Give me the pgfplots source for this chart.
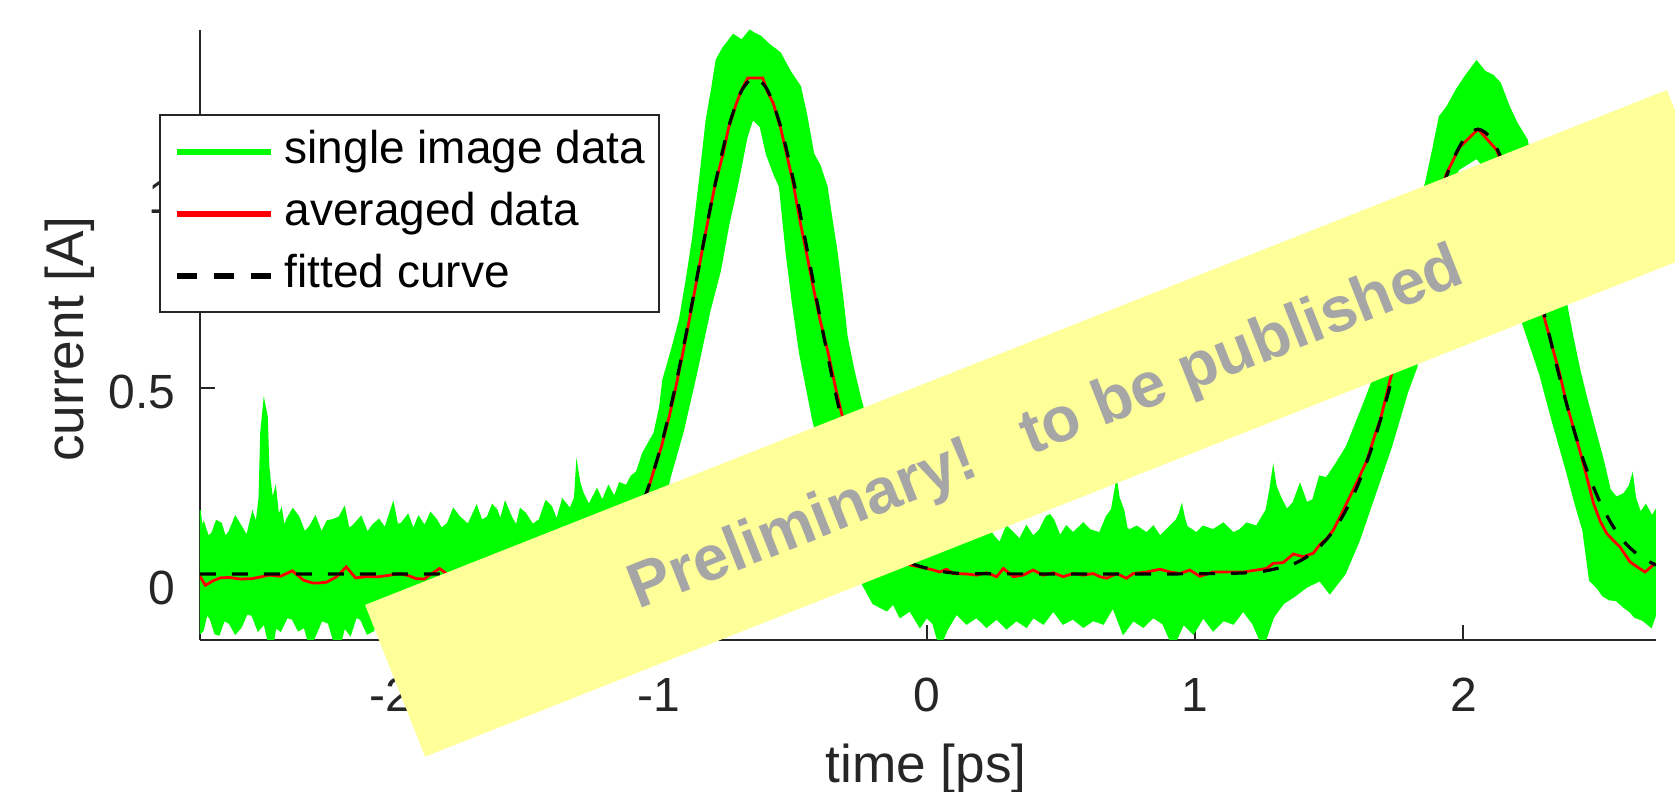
\documentclass[border=0pt]{standalone}
\usepackage{fontspec}
\setmainfont{Liberation Sans}
\usepackage{pgfplots}
\pgfplotsset{compat=1.18}
\definecolor{axgray}{rgb}{0.15,0.15,0.15}
\definecolor{mgreen}{rgb}{0,1,0}
\definecolor{wmyellow}{RGB}{255,255,153}
\definecolor{wmgray}{RGB}{166,166,166}
\begin{document}
\begin{tikzpicture}
\begin{axis}[
  at={(50pt,38pt)}, anchor=south west,
  scale only axis, width=364pt, height=152.5pt,
  xmin=-2.71, xmax=2.718, ymin=-0.144, ymax=1.417,
  axis x line*=bottom, axis y line*=left,
  axis line style={axgray, line width=0.5pt},
  tick align=inside, major tick length=3.7pt,
  tick style={axgray, line width=0.5pt},
  xtick={-2,-1,0,1,2}, xticklabels={\mbox{-2},\mbox{-1},\mbox{0},\mbox{1},\mbox{2}},
  ytick={0,0.5,1}, yticklabels={\mbox{0},\mbox{0.5},\mbox{1}},
  ticklabel style={font=\fontsize{12}{14}\selectfont, text=axgray},
  xticklabel style={anchor=base, yshift=-17.9pt},
  yticklabel style={anchor=east, inner sep=0pt, xshift=-5.9pt, yshift=-1pt},
  xlabel={time [ps]}, ylabel={current [A]},
  label style={font=\fontsize{13.3}{16}\selectfont, text=axgray},
  xlabel style={at={(axis description cs:0.4986,-0.2344)}, anchor=base},
  ylabel style={at={(axis description cs:-0.0797,0.4934)}, anchor=base},
  legend style={at={(-0.0282,0.8618)}, anchor=north west, draw=axgray, line width=0.5pt,
    fill=white, font=\fontsize{11.5}{13}\selectfont, text=black,
    inner xsep=3.5pt, inner ysep=3.6pt, row sep=4.5pt, column sep=2.7pt,
    nodes={inner sep=0pt, text height=8.5pt, text depth=2.5pt}},
  legend cell align=left,
  legend image code/.code={\draw[#1] (0pt,0pt) -- (23.5pt,0pt);},
]
% single image data: envelope of the traces
\addplot[draw=mgreen, fill=mgreen, line width=0.5pt, forget plot] coordinates {
(-2.711,0.188) (-2.703,0.14) (-2.696,0.154) (-2.68,0.12) (-2.664,0.129) (-2.648,0.16) (-2.632,0.154) (-2.616,0.118) (-2.600,0.133) (-2.578,0.17) (-2.557,0.146) (-2.535,0.12) (-2.514,0.18) (-2.50,0.15) (-2.488,0.22) (-2.482,0.385) (-2.471,0.462) (-2.461,0.427) (-2.455,0.30) (-2.450,0.265) (-2.44,0.21) (-2.429,0.240) (-2.418,0.17) (-2.407,0.188) (-2.396,0.14) (-2.386,0.163) (-2.364,0.19) (-2.343,0.171) (-2.32,0.13) (-2.300,0.146) (-2.28,0.17) (-2.257,0.129) (-2.235,0.16) (-2.214,0.163) (-2.19,0.17) (-2.172,0.193) (-2.156,0.14) (-2.140,0.147) (-2.11,0.17) (-2.086,0.129) (-2.065,0.15) (-2.043,0.163) (-2.02,0.14) (-1.990,0.203) (-1.975,0.15) (-1.958,0.154) (-1.935,0.175) (-1.915,0.137) (-1.895,0.17) (-1.872,0.146) (-1.85,0.18) (-1.829,0.163) (-1.81,0.14) (-1.786,0.154) (-1.765,0.19) (-1.744,0.171) (-1.71,0.15) (-1.679,0.197) (-1.66,0.16) (-1.637,0.171) (-1.62,0.20) (-1.604,0.188) (-1.59,0.16) (-1.572,0.206) (-1.55,0.17) (-1.530,0.146) (-1.515,0.19) (-1.498,0.180) (-1.47,0.15) (-1.444,0.163) (-1.42,0.21) (-1.401,0.197) (-1.38,0.16) (-1.358,0.214) (-1.33,0.19) (-1.312,0.22) (-1.305,0.299) (-1.296,0.26) (-1.283,0.231) (-1.26,0.20) (-1.230,0.240) (-1.21,0.21) (-1.187,0.248) (-1.165,0.22) (-1.145,0.257) (-1.12,0.25) (-1.102,0.274) (-1.081,0.286) (-1.058,0.334) (-1.016,0.385) (-0.995,0.45) (-0.983,0.521) (-0.95,0.60) (-0.921,0.675) (-0.895,0.78) (-0.871,0.888) (-0.845,1.04) (-0.821,1.187) (-0.80,1.27) (-0.784,1.34) (-0.76,1.37) (-0.722,1.404) (-0.69,1.39) (-0.66,1.415) (-0.647,1.409) (-0.62,1.40) (-0.59,1.38) (-0.548,1.358) (-0.51,1.31) (-0.473,1.272) (-0.45,1.20) (-0.424,1.10) (-0.40,1.07) (-0.374,1.016) (-0.355,0.93) (-0.336,0.846) (-0.315,0.73) (-0.299,0.632) (-0.275,0.55) (-0.25,0.478) (-0.22,0.40) (-0.19,0.33) (-0.16,0.28) (-0.13,0.24) (-0.10,0.21) (-0.06,0.19) (-0.02,0.17) (0.02,0.16) (0.06,0.17) (0.10,0.15) (0.14,0.16) (0.18,0.14) (0.22,0.15) (0.25,0.12) (0.272,0.103) (0.297,0.146) (0.322,0.129) (0.346,0.112) (0.371,0.146) (0.396,0.120) (0.421,0.137) (0.446,0.171) (0.458,0.175) (0.471,0.163) (0.496,0.120) (0.520,0.146) (0.545,0.129) (0.583,0.154) (0.607,0.137) (0.645,0.129) (0.670,0.171) (0.69,0.19) (0.700,0.23) (0.707,0.257) (0.715,0.22) (0.732,0.188) (0.745,0.14) (0.757,0.137) (0.782,0.146) (0.819,0.129) (0.844,0.146) (0.869,0.120) (0.894,0.137) (0.931,0.163) (0.943,0.18) (0.950,0.197) (0.958,0.17) (0.968,0.146) (1.005,0.129) (1.030,0.146) (1.067,0.137) (1.105,0.154) (1.142,0.129) (1.167,0.137) (1.192,0.154) (1.229,0.146) (1.266,0.188) (1.28,0.24) (1.291,0.291) (1.30,0.25) (1.316,0.223) (1.341,0.188) (1.366,0.206) (1.391,0.252) (1.415,0.206) (1.44,0.214) (1.465,0.274) (1.49,0.27) (1.52,0.30) (1.565,0.35) (1.60,0.41) (1.62,0.444) (1.663,0.52) (1.70,0.60) (1.75,0.72) (1.80,0.86) (1.84,0.97) (1.863,1.033) (1.89,1.12) (1.912,1.195) (1.94,1.22) (1.975,1.264) (2.01,1.30) (2.049,1.336) (2.08,1.31) (2.11,1.30) (2.136,1.281) (2.17,1.22) (2.198,1.179) (2.236,1.136) (2.27,1.02) (2.31,0.90) (2.35,0.80) (2.385,0.709) (2.41,0.62) (2.435,0.539) (2.46,0.47) (2.483,0.411) (2.52,0.316) (2.546,0.24) (2.57,0.22) (2.60,0.23) (2.62,0.25) (2.63,0.274) (2.64,0.22) (2.66,0.18) (2.68,0.20) (2.704,0.171) (2.72,0.19)
(2.72,-0.07) (2.70,-0.11) (2.67,-0.093) (2.64,-0.085) (2.62,-0.07) (2.60,-0.06) (2.57,-0.042) (2.545,-0.04) (2.52,-0.03) (2.50,-0.01) (2.472,0.009) (2.447,0.137) (2.42,0.20) (2.385,0.29) (2.335,0.411) (2.285,0.539) (2.222,0.667) (2.17,0.85) (2.12,1.03) (2.05,1.09) (1.98,1.06) (1.92,0.95) (1.86,0.75) (1.825,0.555) (1.79,0.49) (1.73,0.35) (1.67,0.23) (1.61,0.11) (1.558,0.026) (1.502,-0.024) (1.465,0.009) (1.415,-0.008) (1.366,-0.033) (1.328,-0.05) (1.291,-0.085) (1.253,-0.16) (1.216,-0.102) (1.179,-0.068) (1.142,-0.102) (1.105,-0.093) (1.067,-0.119) (1.030,-0.085) (0.993,-0.127) (0.956,-0.102) (0.918,-0.16) (0.881,-0.102) (0.844,-0.085) (0.806,-0.110) (0.769,-0.093) (0.732,-0.127) (0.694,-0.059) (0.657,-0.102) (0.620,-0.093) (0.583,-0.110) (0.545,-0.089) (0.508,-0.102) (0.471,-0.068) (0.434,-0.102) (0.396,-0.085) (0.371,-0.110) (0.334,-0.093) (0.297,-0.114) (0.260,-0.089) (0.222,-0.110) (0.185,-0.085) (0.148,-0.102) (0.110,-0.076) (0.073,-0.119) (0.048,-0.16) (0.024,-0.102) (-0.001,-0.085) (-0.026,-0.110) (-0.063,-0.068) (-0.100,-0.085) (-0.125,-0.05) (-0.150,-0.068) (-0.200,-0.05) (-0.24,0.0) (-0.28,0.07) (-0.33,0.17) (-0.38,0.30) (-0.424,0.419) (-0.473,0.59) (-0.50,0.72) (-0.523,0.846) (-0.548,1.016) (-0.57,1.05) (-0.597,1.10) (-0.62,1.17) (-0.65,1.19) (-0.672,1.144) (-0.709,1.016) (-0.74,0.92) (-0.772,0.80) (-0.81,0.70) (-0.86,0.54) (-0.91,0.39) (-0.96,0.27) (-1.02,0.08) (-1.08,-0.02) (-1.15,-0.08) (-1.25,-0.12) (-1.4,-0.13) (-1.6,-0.12) (-1.8,-0.13) (-2.0,-0.12) (-2.043,-0.076) (-2.065,-0.12) (-2.086,-0.127) (-2.11,-0.09) (-2.129,-0.085) (-2.15,-0.13) (-2.172,-0.110) (-2.19,-0.16) (-2.204,-0.16) (-2.23,-0.10) (-2.257,-0.093) (-2.28,-0.13) (-2.300,-0.16) (-2.32,-0.11) (-2.343,-0.119) (-2.364,-0.09) (-2.386,-0.085) (-2.41,-0.12) (-2.429,-0.110) (-2.44,-0.16) (-2.450,-0.16) (-2.47,-0.10) (-2.493,-0.119) (-2.515,-0.08) (-2.536,-0.076) (-2.557,-0.11) (-2.578,-0.127) (-2.60,-0.10) (-2.621,-0.093) (-2.64,-0.13) (-2.653,-0.127) (-2.67,-0.09) (-2.685,-0.076) (-2.70,-0.12) (-2.711,-0.127)
};
% averaged data
\addplot[red, line width=0.7pt, forget plot] coordinates {
(-2.713,0.022) (-2.69,-0.004) (-2.66,0.008) (-2.634,0.015) (-2.60,0.016) (-2.56,0.012) (-2.516,0.013) (-2.48,0.018) (-2.452,0.022) (-2.41,0.019) (-2.366,0.033) (-2.324,0.009) (-2.291,0.002) (-2.265,0.002) (-2.238,0.004) (-2.20,0.018) (-2.165,0.043) (-2.13,0.015) (-2.09,0.018) (-2.045,0.018) (-2.00,0.022) (-1.966,0.026) (-1.93,0.02) (-1.904,0.013) (-1.874,0.012) (-1.854,0.022) (-1.817,0.039) (-1.78,0.02) (-1.74,0.025) (-1.70,0.018) (-1.66,0.03) (-1.62,0.022) (-1.58,0.028) (-1.54,0.02) (-1.50,0.032) (-1.46,0.028) (-1.42,0.035) (-1.38,0.03) (-1.34,0.04) (-1.30,0.045) (-1.26,0.05) (-1.22,0.06) (-1.18,0.08) (-1.14,0.105) (-1.10,0.14) (-1.06,0.2) (-1.04,0.24) (-1.02,0.285) (-0.99,0.35) (-0.96,0.43) (-0.94,0.49) (-0.91,0.59) (-0.89,0.66) (-0.86,0.77) (-0.84,0.845) (-0.816,0.93) (-0.79,1.02) (-0.76,1.10) (-0.74,1.165) (-0.71,1.23) (-0.69,1.265) (-0.668,1.294) (-0.612,1.294) (-0.595,1.26) (-0.573,1.23) (-0.545,1.165) (-0.524,1.102) (-0.50,1.03) (-0.474,0.931) (-0.45,0.85) (-0.424,0.76) (-0.40,0.68) (-0.368,0.59) (-0.34,0.50) (-0.318,0.436) (-0.29,0.36) (-0.25,0.26) (-0.21,0.19) (-0.17,0.13) (-0.13,0.095) (-0.09,0.07) (-0.063,0.048) (-0.026,0.043) (0.024,0.035) (0.048,0.030) (0.073,0.037) (0.098,0.026) (0.148,0.025) (0.185,0.022) (0.222,0.028) (0.26,0.018) (0.285,0.039) (0.322,0.018) (0.359,0.022) (0.396,0.035) (0.434,0.022) (0.471,0.028) (0.508,0.018) (0.545,0.026) (0.583,0.022) (0.62,0.026) (0.645,0.018) (0.67,0.014) (0.707,0.026) (0.744,0.014) (0.769,0.026) (0.819,0.030) (0.869,0.037) (0.906,0.030) (0.943,0.026) (0.98,0.035) (1.018,0.019) (1.067,0.030) (1.117,0.030) (1.179,0.030) (1.229,0.035) (1.266,0.039) (1.291,0.052) (1.328,0.054) (1.366,0.076) (1.403,0.069) (1.44,0.078) (1.465,0.10) (1.49,0.115) (1.515,0.137) (1.552,0.188) (1.589,0.24) (1.61,0.27) (1.64,0.315) (1.67,0.38) (1.69,0.419) (1.705,0.46) (1.726,0.52) (1.76,0.6) (1.80,0.71) (1.85,0.84) (1.90,0.97) (1.937,1.05) (1.987,1.118) (2.055,1.163) (2.124,1.11) (2.17,1.03) (2.22,0.92) (2.26,0.80) (2.297,0.692) (2.33,0.61) (2.36,0.535) (2.385,0.46) (2.41,0.40) (2.447,0.308) (2.485,0.206) (2.51,0.16) (2.534,0.129) (2.56,0.11) (2.584,0.094) (2.621,0.056) (2.65,0.042) (2.677,0.030) (2.715,0.052)
};
% fitted curve
\addplot[black, line width=0.8pt, dash pattern=on 4pt off 4pt, smooth, forget plot] coordinates {
(-2.71,0.025) (-2.2,0.025) (-1.7,0.025) (-1.442,0.026) (-1.342,0.031) (-1.242,0.048) (-1.192,0.069) (-1.142,0.104) (-1.092,0.159) (-1.042,0.240) (-0.992,0.351) (-0.942,0.492) (-0.892,0.659) (-0.842,0.839) (-0.792,1.014) (-0.742,1.162) (-0.692,1.260) (-0.642,1.295) (-0.592,1.260) (-0.542,1.162) (-0.492,1.014) (-0.442,0.839) (-0.392,0.659) (-0.342,0.492) (-0.292,0.351) (-0.242,0.240) (-0.192,0.159) (-0.142,0.104) (-0.092,0.069) (-0.042,0.048) (0.058,0.031) (0.158,0.026) (0.5,0.025) (0.9,0.025) (1.155,0.027) (1.255,0.032) (1.355,0.048) (1.405,0.064) (1.455,0.089) (1.505,0.126) (1.555,0.179) (1.605,0.250) (1.655,0.341) (1.705,0.452) (1.755,0.579) (1.805,0.715) (1.855,0.851) (1.905,0.976) (1.955,1.075) (2.005,1.140) (2.055,1.163) (2.105,1.138) (2.155,1.066) (2.205,0.958) (2.255,0.824) (2.305,0.680) (2.355,0.538) (2.405,0.410) (2.455,0.301) (2.505,0.215) (2.555,0.150) (2.605,0.103) (2.655,0.072) (2.705,0.052) (2.72,0.048)
};
\addlegendimage{mgreen, line width=1.5pt}
\addlegendentry{single image data}
\addlegendimage{red, line width=1.5pt}
\addlegendentry{averaged data}
\addlegendimage{black, line width=1.5pt, dash pattern=on 5pt off 4.25pt}
\addlegendentry{fitted curve}
\end{axis}
\node[rotate=21.58, minimum width=350pt, minimum height=40.8pt, inner sep=0pt, fill=wmyellow] at (261.5pt,92.16pt) {};
\node[rotate=21.58, anchor=base, inner sep=0pt, text=wmgray, font=\fontsize{15.9}{18}\selectfont\bfseries] at (263.25pt,86.5pt) {Preliminary!\ \ \ to be published};
\pgfresetboundingbox
\useasboundingbox (0,0) rectangle (418.75pt,198pt);
\end{tikzpicture}
\end{document}
